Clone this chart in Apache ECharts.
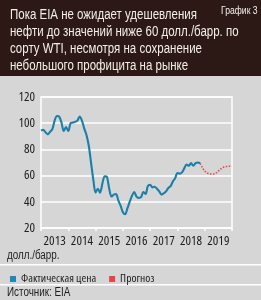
<!DOCTYPE html>
<html><head><meta charset="utf-8">
<script src="https://cdn.jsdelivr.net/npm/echarts@6/dist/echarts.min.js"></script>
<style>html,body{margin:0;padding:0;background:#d6d6d6;}#c{width:261px;height:300px;}</style>
</head><body><div id="c"></div>
<script>
// ---- data ----
var years = ['2013','2014','2015','2016','2017','2018','2019'];
var yTicks = [20, 40, 60, 80, 100, 120];
var actualFirstMonth = '2013-01';
var actualPrices = [94.5,95,93,91.5,93.5,95.5,102,105.5,105,100.5,94,97,
  94,100,100.5,101,102,105,102,96,91,83,70,57,
  47,50,47,54,59.5,59,50,44,45.5,46,41,37,
  32,30.5,35,40,44.5,47.5,44,43,43.5,47.5,46,52,
  53,51,51.5,50,48,45.5,46.5,48,50.5,52,55.5,58,
  62,61.5,62.5,65.5,68.5,67.5,69.5,67.5,69.5,70,69.3];
var forecastFirstMonth = '2018-11';
var forecastPrices = [69.3,66,63.5,62,61.5,61.2,61.3,62,63.5,65,66.2,66.8,67,67.2,67.2];
var seriesNames = ['Фактическая цена', 'Прогноз'];
var titleText = 'Пока EIA не ожидает удешевления\nнефти до значений ниже 60 долл./барр. по\nсорту WTI, несмотря на сохранение\nнебольшого профицита на рынке';
var chartTag = 'График 3';
var unitText = 'долл./барр.';
var sourceText = 'Источник: EIA';

function toPoints(first, vals) {
  var p = first.split('-'); var y = +p[0], m = +p[1] - 1;
  return vals.map(function (v, i) { return [y + (m + i) / 12, v]; });
}

var NARROW = 0.82;
var LIB = '"Liberation Sans", Arial, sans-serif';
var COND = '"Open Sans", sans-serif';
var BLUE = '#1b80a9', RED = '#e8424c', TXT = '#1e1e1e';

var chart = echarts.init(document.getElementById('c'), null, {renderer: 'canvas'});
chart.setOption({
  backgroundColor: '#d6d6d6',
  animation: false,
  graphic: [
    {type: 'rect', x: 0, y: 0, shape: {width: 261, height: 76}, style: {fill: '#2c1915'}, z: -1},
    {type: 'text', x: 10, y: 6, scaleX: NARROW, style: {text: titleText, fill: '#f3efea', font: '14px ' + LIB, lineHeight: 17.3, verticalAlign: 'top'}},
    {type: 'text', x: 221, y: 6, scaleX: NARROW, style: {text: chartTag, fill: '#f3efea', font: '10.5px ' + LIB, verticalAlign: 'top'}},
    {type: 'rect', x: 0, y: 264, shape: {width: 261, height: 1.5}, style: {fill: '#ffffff'}},
    {type: 'rect', x: 0, y: 284, shape: {width: 261, height: 1.5}, style: {fill: '#ffffff'}},
    {type: 'text', x: 7, y: 250, scaleX: NARROW, style: {text: unitText, fill: TXT, font: '12px ' + LIB, verticalAlign: 'top'}},
    {type: 'text', x: 7, y: 287, scaleX: NARROW, style: {text: sourceText, fill: TXT, font: '12px ' + LIB, verticalAlign: 'top'}}
  ],
  legend: {
    left: 5, top: 268, icon: 'rect', itemWidth: 6, itemHeight: 6, itemGap: 13,
    textStyle: {color: TXT, fontSize: 11.5, fontFamily: COND, fontStyle: 'condensed'},
    data: [{name: seriesNames[0], itemStyle: {color: '#1f88b8'}}, {name: seriesNames[1], itemStyle: {color: RED}}]
  },
  grid: {left: 41, right: 29, top: 97, bottom: 72, show: true, borderColor: '#ffffff', borderWidth: 1.5, backgroundColor: 'transparent'},
  xAxis: [
    {type: 'value', min: 2013, max: 2020, interval: 1,
     axisLine: {show: false}, axisLabel: {show: false}, splitLine: {show: false},
     axisTick: {show: true, length: 3, lineStyle: {color: '#ffffff', width: 1.5}}},
    {type: 'category', data: years, boundaryGap: true, position: 'bottom',
     axisLine: {show: false}, axisTick: {show: false}, splitLine: {show: false},
     axisLabel: {interval: 0, color: TXT, fontSize: 13, fontFamily: COND, fontStyle: 'condensed', margin: 7}}
  ],
  yAxis: {type: 'value', min: yTicks[0], max: yTicks[yTicks.length - 1], interval: 20,
    axisLine: {show: false}, axisTick: {show: false},
    splitLine: {lineStyle: {color: '#ffffff', width: 1.5}},
    axisLabel: {color: TXT, fontSize: 13, fontFamily: COND, fontStyle: 'condensed', margin: 6}},
  series: [
    {name: seriesNames[0], type: 'line', xAxisIndex: 0, data: toPoints(actualFirstMonth, actualPrices),
     showSymbol: false, symbol: 'none', smooth: 0.3, lineStyle: {color: BLUE, width: 2.1}, itemStyle: {color: BLUE}, z: 3},
    {name: seriesNames[1], type: 'line', xAxisIndex: 0, data: toPoints(forecastFirstMonth, forecastPrices),
     showSymbol: false, symbol: 'none', smooth: 0.3, lineStyle: {color: RED, width: 1.5, type: [1.5, 1.5]}, itemStyle: {color: RED}, z: 2}
  ]
});
</script></body></html>
